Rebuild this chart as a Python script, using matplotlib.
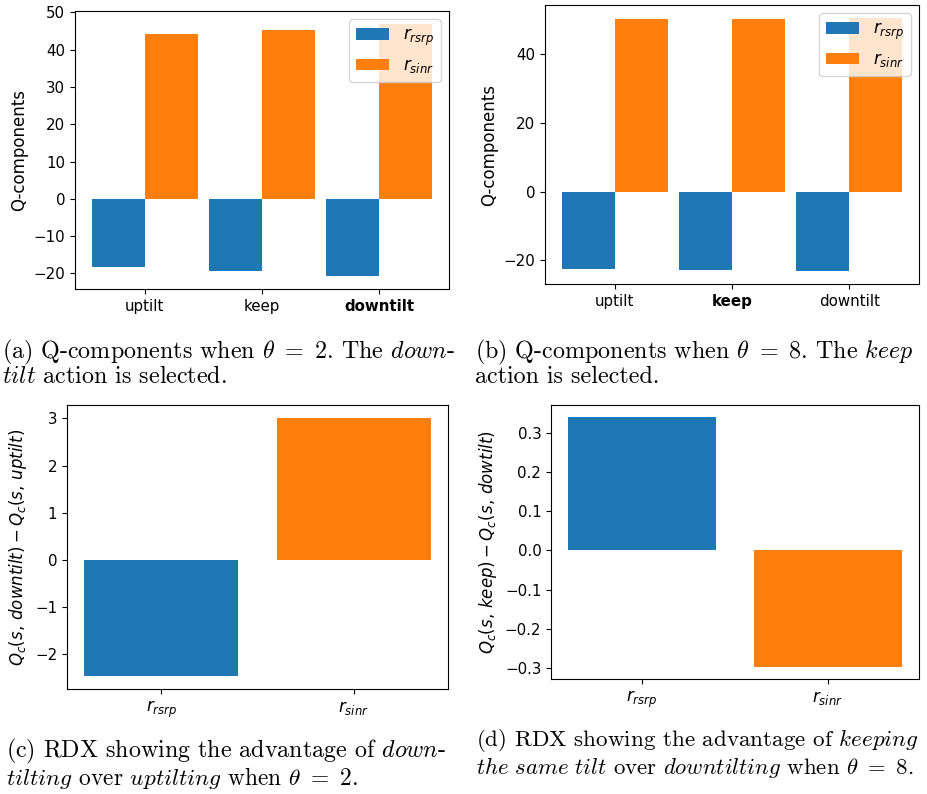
import numpy as np
import matplotlib
matplotlib.use('Agg')
import matplotlib.pyplot as plt
from matplotlib.ticker import MultipleLocator

# ============================================================
# Datos
# ============================================================
acciones = ['uptilt', 'keep', 'downtilt']
componentes = [r'$r_{rsrp}$', r'$r_{sinr}$']

# (a) theta = 2
q_rsrp_t2 = [-18.4, -19.4, -20.8]
q_sinr_t2 = [44.1, 45.4, 47.0]
# (b) theta = 8
q_rsrp_t8 = [-22.6, -22.9, -23.2]
q_sinr_t8 = [50.4, 50.4, 50.7]
# (c) RDX downtilt - uptilt, theta = 2
rdx_t2 = [-2.46, 3.01]
# (d) RDX keep - downtilt, theta = 8
rdx_t8 = [0.339, -0.296]

W, H = 928, 794
fig = plt.figure(figsize=(W / 100, H / 100), dpi=100)


def ax_px(left, top, right, bottom):
    return fig.add_axes([left / W, 1 - bottom / H, (right - left) / W, (bottom - top) / H])


def q_panel(ax, rsrp, sinr, seleccion, paso):
    x = np.arange(len(acciones))
    w = 0.45
    ax.bar(x - w / 2, rsrp, w, color='#1f77b4', label=componentes[0])
    ax.bar(x + w / 2, sinr, w, color='#ff7f0e', label=componentes[1])
    ax.set_xticks(x)
    ax.set_xticklabels(acciones, fontsize=10.8)
    ax.get_xticklabels()[seleccion].set_fontweight('bold')
    ax.yaxis.set_major_locator(MultipleLocator(paso))
    ax.tick_params(axis='y', labelsize=10.8)
    ax.set_ylabel('Q-components', fontsize=12)
    ax.legend(loc='upper right', fontsize=12)


def rdx_panel(ax, vals, ylabel):
    x = np.arange(len(componentes))
    ax.bar(x, vals, color=['#1f77b4', '#ff7f0e'])
    ax.set_xticks(x)
    ax.set_xticklabels(componentes, fontsize=12)
    ax.tick_params(axis='y', labelsize=10.8)
    ax.set_ylabel(ylabel, fontsize=12)


ax_a = ax_px(75, 11, 449, 289)
q_panel(ax_a, q_rsrp_t2, q_sinr_t2, 2, 10)

ax_b = ax_px(545, 5, 919, 284)
q_panel(ax_b, q_rsrp_t8, q_sinr_t8, 1, 20)

ax_c = ax_px(67, 405, 448, 689)
rdx_panel(ax_c, rdx_t2, r'$Q_c(s,\, downtilt) - Q_c(s,\, uptilt)$')

ax_d = ax_px(551, 405, 919, 679)
rdx_panel(ax_d, rdx_t8, r'$Q_c(s,\, keep) - Q_c(s,\, dowtilt)$')


# Captions estilo LaTeX
def caption(x, y, s, size=17.3):
    fig.text(x / W, 1 - y / H, s, fontsize=size, family='cmr10',
             math_fontfamily='cm', va='center', ha='left')


caption(2, 352, r'(a) Q-components when $\theta\ =\ 2$. The $\mathit{down}$-')
caption(2, 377, r'$\mathit{tilt}$ action is selected.')
caption(475, 352, r'(b) Q-components when $\theta\ =\ 8$. The $\mathit{keep}$')
caption(475, 377, r'action is selected.')
caption(6, 751, r'(c) RDX showing the advantage of $\mathit{down}$-')
caption(6, 778, r'$\mathit{tilting}$ over $\mathit{uptilting}$ when $\theta\ =\ 2$.', 16.8)
caption(476, 740, r'(d) RDX showing the advantage of $\mathit{keeping}$', 16.6)
caption(476, 767, r'$\mathit{the\ same\ tilt}$ over $\mathit{downtilting}$ when $\theta\ =\ 8$.', 16.4)

fig.savefig('out.png', dpi=100)
